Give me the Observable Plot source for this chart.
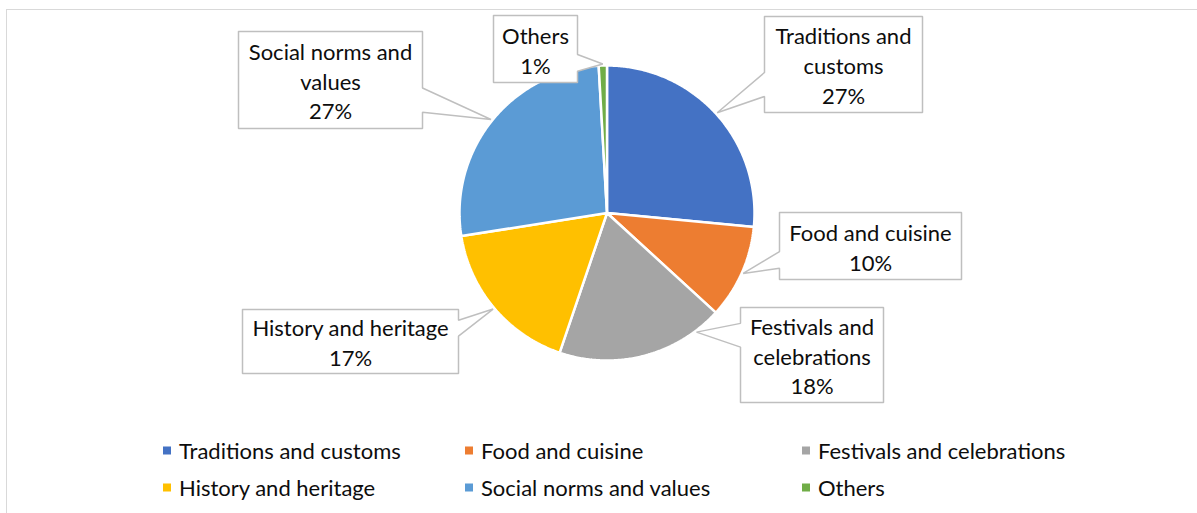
<!DOCTYPE html>
<html>
<head>
<meta charset="utf-8">
<script src="https://cdn.jsdelivr.net/npm/d3@7"></script>
<script src="https://cdn.jsdelivr.net/npm/@observablehq/plot@0.6"></script>
<style>
  html, body { margin: 0; padding: 0; background: #fff; overflow: hidden; width: 1197px; height: 513px; }
  #wrap { position: relative; width: 1197px; height: 513px; font-family: "Lato", "Open Sans", sans-serif; }
  #frame { position: absolute; left: 6px; top: 9px; width: 1210px; height: 520px; border: 1.5px solid #d9d9d9; box-sizing: border-box; pointer-events: none; }
  #chart { position: absolute; left: 0; top: 0; }
  #legend { position: absolute; left: 0; top: 430px; width: 1197px; height: 83px; }
  .li { position: absolute; display: flex; align-items: center; font-size: 22px; color: #0d0d0d; white-space: nowrap; transform: translateY(-50%); }
  .sw { width: 8px; height: 8px; margin-right: 8px; }
</style>
</head>
<body>
<div id="wrap">
  <div id="frame"></div>
  <div id="chart"></div>
  <div id="legend"></div>
</div>
<script>
// ---- data ----
const categories = ["Traditions and customs", "Food and cuisine", "Festivals and celebrations", "History and heritage", "Social norms and values", "Others"];
const shares = [26.5, 10.3, 18.4, 17.3, 26.6, 0.9];
const calloutNames = ["Traditions and\ncustoms", "Food and cuisine", "Festivals and\ncelebrations", "History and heritage", "Social norms and\nvalues", "Others"];
const colors = ["#4472C4", "#ED7D31", "#A5A5A5", "#FFC000", "#5B9BD5", "#70AD47"];

// ---- layout (pixels) ----
const W = 1197, H = 430;
const cx = 606.5, cy = 212.5, R = 147.5;
const boxes = [
  {x0: 764, y0: 16, x1: 922, y1: 112, tipFrac: 0.5},
  {x0: 779, y0: 212, x1: 961, y1: 279, tipFrac: 0.5},
  {x0: 740, y0: 307, x1: 883, y1: 402, tipFrac: 0.16},
  {x0: 242, y0: 309, x1: 458, y1: 373, tipFrac: 0.5},
  {x0: 238, y0: 31, x1: 422, y1: 128, tipFrac: 0.5},
  {x0: 493, y0: 15, x1: 577, y1: 82, tipFrac: 0.5}
];
const legendCols = [163, 465, 802];
const legendRows = [20, 57];

// ---- build pie geometry from data ----
const total = d3.sum(shares);
const slices = [];
let acc = 0;
const pt = (a, r) => [cx + r * Math.sin(a), cy - r * Math.cos(a)];
const wedgeRows = [];
categories.forEach((cat, i) => {
  const a0 = acc / total * 2 * Math.PI;
  acc += shares[i];
  const a1 = acc / total * 2 * Math.PI;
  slices.push({cat, a0, a1});
  wedgeRows.push({cat, x: cx, y: cy});
  const n = Math.max(2, Math.ceil((a1 - a0) / (Math.PI / 360)));
  for (let k = 0; k <= n; k++) {
    const [x, y] = pt(a0 + (a1 - a0) * k / n, R);
    wedgeRows.push({cat, x, y});
  }
  wedgeRows.push({cat, x: cx, y: cy});
});

// ---- callouts ----
const calloutRows = [];
const textRows = [];
categories.forEach((cat, i) => {
  const b = boxes[i], s = slices[i];
  const ta = s.a0 + (s.a1 - s.a0) * b.tipFrac;
  const [tx, ty] = pt(ta, R + 1.5);
  const mid = (b.y0 + b.y1) / 2, h = b.y1 - b.y0;
  const [f0, f1] = ty > mid ? [0.583, 0.833] : [0.167, 0.417];
  const n0 = b.y0 + f0 * h, n1 = b.y0 + f1 * h;
  const pts = [[b.x0, b.y0], [b.x1, b.y0]];
  if (tx > b.x1) pts.push([b.x1, n0], [tx, ty], [b.x1, n1]);
  pts.push([b.x1, b.y1], [b.x0, b.y1]);
  if (tx < b.x0) pts.push([b.x0, n1], [tx, ty], [b.x0, n0]);
  pts.push([b.x0, b.y0]);
  pts.forEach(([x, y]) => calloutRows.push({id: cat, x, y}));
  textRows.push({x: (b.x0 + b.x1) / 2, y: mid, label: calloutNames[i] + "\n" + Math.round(shares[i] / total * 100) + "%"});
});

const chart = Plot.plot({
  width: W, height: H,
  margin: 0,
  x: {type: "linear", domain: [0, W], range: [0, W], axis: null},
  y: {type: "linear", domain: [0, H], range: [0, H], axis: null},
  color: {domain: categories, range: colors},
  style: {fontFamily: "Lato, 'Open Sans', sans-serif", background: "transparent"},
  marks: [
    Plot.line(wedgeRows, {x: "x", y: "y", z: "cat", fill: "cat", stroke: "white", strokeWidth: 2.5, strokeLinejoin: "miter", curve: "linear"}),
    Plot.line(calloutRows, {x: "x", y: "y", z: "id", fill: "white", stroke: "#bfbfbf", strokeWidth: 1.5, strokeLinejoin: "miter", curve: "linear"}),
    Plot.text(textRows, {x: "x", y: "y", text: "label", fontSize: 22, lineHeight: 1.36, fill: "#0d0d0d", textAnchor: "middle"})
  ]
});
document.getElementById("chart").appendChild(chart);

// ---- legend ----
const leg = document.getElementById("legend");
categories.forEach((cat, i) => {
  const el = document.createElement("div");
  el.className = "li";
  el.style.left = legendCols[i % 3] + "px";
  el.style.top = legendRows[Math.floor(i / 3)] + "px";
  const sw = document.createElement("span");
  sw.className = "sw";
  sw.style.background = colors[i];
  const tx = document.createElement("span");
  tx.textContent = cat;
  el.appendChild(sw); el.appendChild(tx);
  leg.appendChild(el);
});
</script>
</body>
</html>
